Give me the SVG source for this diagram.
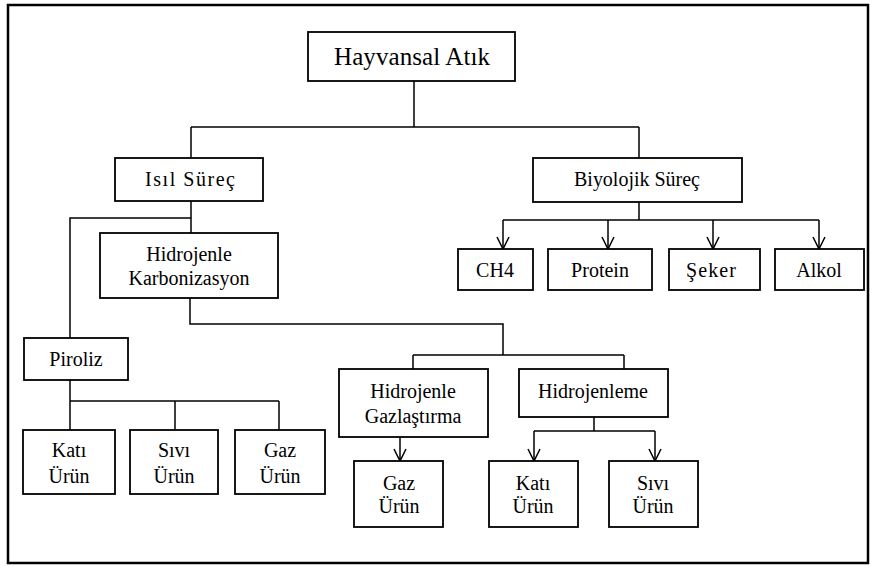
<svg xmlns="http://www.w3.org/2000/svg" width="873" height="567" viewBox="0 0 873 567">
<style>
.box{fill:#fff;stroke:#000;stroke-width:1.8}
.t{font-family:"Liberation Serif","Times New Roman",serif;font-size:20px;fill:#000;text-anchor:middle}
.big{font-size:25px}
.c{fill:none;stroke:#000;stroke-width:1.5}
.a{fill:none;stroke:#000;stroke-width:1.5;marker-end:url(#v)}
</style>
<defs>
<marker id="v" markerUnits="userSpaceOnUse" markerWidth="16" markerHeight="16" refX="14" refY="8" orient="auto" viewBox="0 0 16 16">
<path d="M2,2 L14,8 L2,14" fill="none" stroke="#000" stroke-width="1.5"/>
</marker>
</defs>
<rect x="0" y="0" width="873" height="567" fill="#fff"/>
<rect x="8" y="5" width="860" height="558" fill="none" stroke="#000" stroke-width="2.5"/>
<g id="connectors">
<path class="c" d="M414,81 V127 M191,127 H639 M191,127 V158 M639,127 V158"/>
<path class="c" d="M191,201 V233 M191,218 H70 V338"/>
<path class="c" d="M190,298 V324 H503 V355 M413,355 H624 M413,355 V369 M624,355 V369"/>
<path class="c" d="M70,380 V401 M70,401 H279 M70,401 V430 M175,401 V430 M279,401 V430"/>
<path class="c" d="M639,202 V220 M503,220 H819"/>
<path class="a" d="M503,220 V249"/>
<path class="a" d="M608,220 V249"/>
<path class="a" d="M713,220 V249"/>
<path class="a" d="M819,220 V249"/>
<path class="a" d="M400,437 V461"/>
<path class="c" d="M594,417 V431 M534,431 H655"/>
<path class="a" d="M534,431 V461"/>
<path class="a" d="M655,431 V461"/>
</g>
<g id="hayvansal"><rect class="box" x="308" y="32" width="207" height="49"/><text class="t big" x="412" y="65" textLength="156" lengthAdjust="spacing">Hayvansal Atık</text></g>
<g id="isil"><rect class="box" x="115" y="158" width="148" height="43"/><text class="t" x="190" y="186" textLength="90" lengthAdjust="spacing">Isıl Süreç</text></g>
<g id="biyolojik"><rect class="box" x="533" y="158" width="209" height="44"/><text class="t" x="637" y="186" textLength="126" lengthAdjust="spacing">Biyolojik Süreç</text></g>
<g id="ch4"><rect class="box" x="458" y="249" width="75" height="41"/><text class="t" x="495" y="277">CH4</text></g>
<g id="protein"><rect class="box" x="548" y="249" width="104" height="41"/><text class="t" x="600" y="277">Protein</text></g>
<g id="seker"><rect class="box" x="669" y="249" width="91" height="41"/><text class="t" x="711" y="277" textLength="50" lengthAdjust="spacing">Şeker</text></g>
<g id="alkol"><rect class="box" x="775" y="249" width="89" height="41"/><text class="t" x="819" y="277">Alkol</text></g>
<g id="hk"><rect class="box" x="100" y="233" width="178" height="65"/><text class="t" x="189" y="261">Hidrojenle</text><text class="t" x="189" y="285">Karbonizasyon</text></g>
<g id="piroliz"><rect class="box" x="24" y="338" width="104" height="42"/><text class="t" x="76" y="366">Piroliz</text></g>
<g id="kati1"><rect class="box" x="23" y="430" width="92" height="64"/><text class="t" x="69" y="457">Katı</text><text class="t" x="69" y="483">Ürün</text></g>
<g id="sivi1"><rect class="box" x="130" y="430" width="88" height="64"/><text class="t" x="174" y="457">Sıvı</text><text class="t" x="174" y="483">Ürün</text></g>
<g id="gaz1"><rect class="box" x="235" y="430" width="90" height="64"/><text class="t" x="280" y="457">Gaz</text><text class="t" x="280" y="483">Ürün</text></g>
<g id="hg"><rect class="box" x="339" y="369" width="149" height="68"/><text class="t" x="413" y="398">Hidrojenle</text><text class="t" x="413" y="423">Gazlaştırma</text></g>
<g id="hidrojenleme"><rect class="box" x="519" y="369" width="149" height="48"/><text class="t" x="593" y="398">Hidrojenleme</text></g>
<g id="gaz2"><rect class="box" x="354" y="461" width="89" height="66"/><text class="t" x="399" y="490">Gaz</text><text class="t" x="399" y="513">Ürün</text></g>
<g id="kati2"><rect class="box" x="489" y="461" width="89" height="66"/><text class="t" x="533" y="490">Katı</text><text class="t" x="533" y="513">Ürün</text></g>
<g id="sivi2"><rect class="box" x="609" y="461" width="89" height="66"/><text class="t" x="653" y="490">Sıvı</text><text class="t" x="653" y="513">Ürün</text></g>
</svg>
